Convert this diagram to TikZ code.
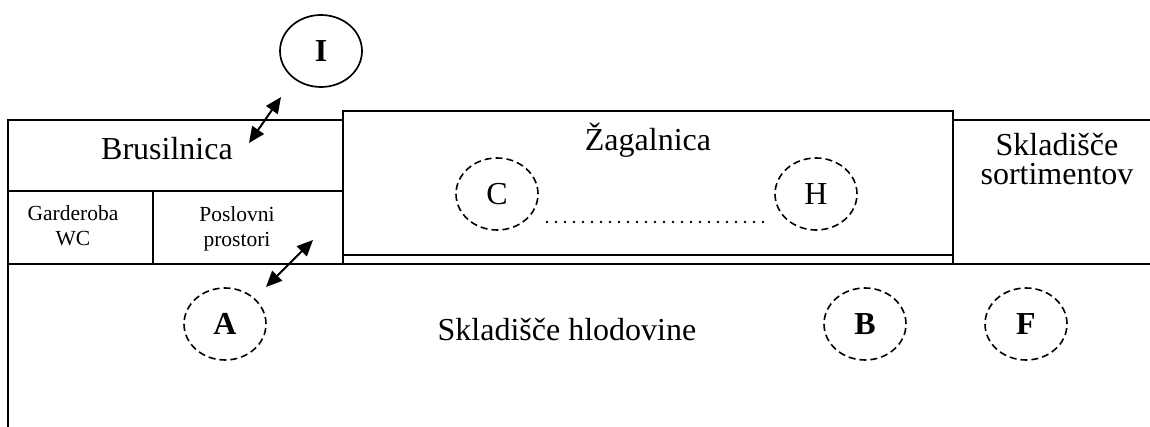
\documentclass[tikz,border=0pt]{standalone}
\usepackage{fontspec}
\setmainfont{Liberation Serif}
\usetikzlibrary{arrows.meta,shapes.geometric}
\begin{document}
\begin{tikzpicture}[x=1pt,y=-1pt,
  wall/.style={line width=2.3pt},
  thinwall/.style={line width=1.1pt},
  lbl/.style={inner sep=0pt, font=\fontsize{32}{28}\selectfont},
  smalllbl/.style={inner sep=0pt, font=\fontsize{21.5}{25}\selectfont},
  spot/.style={ellipse, draw, dash pattern=on 7pt off 4pt, line width=1.6pt,
    minimum width=82pt, minimum height=72pt, inner sep=0pt,
    font=\fontsize{32}{34}\selectfont},
  solidspot/.style={ellipse, draw, line width=1.7pt,
    minimum width=82pt, minimum height=72pt, inner sep=0pt,
    font=\fontsize{32}{34}\selectfont\bfseries},
  dots/.style={line width=2.6pt, line cap=round, dash pattern=on 0pt off 9pt},
  dbl/.style={line width=2pt,
    {Triangle[length=16pt,width=14pt]}-{Triangle[length=16pt,width=14pt]}}
]
\useasboundingbox (0,0) rectangle (1150,427);
% walls
\draw[wall] (8,427) -- (8,120) -- (343,120);
\draw[wall] (8,191) -- (343,191);
\draw[wall] (153,191) -- (153,264);
\draw[wall] (8,264) -- (1150,264);
\draw[wall] (343,264) -- (343,111) -- (953,111) -- (953,264);
\draw[wall] (953,120) -- (1150,120);
\draw[thinwall] (343,255) -- (953,255);
% labels
\node[lbl, anchor=base] (brus) at (167,160) {Brusilnica};
\node[lbl, anchor=base] (zag) at (648,151) {Žagalnica};
\node[lbl, anchor=base] (hlod) at (567,340) {Skladišče hlodovine};
\node[smalllbl, anchor=base] (gard) at (73,246)
  {\begin{tabular}[b]{@{}c@{}}Garderoba\\WC\end{tabular}};
\node[smalllbl, anchor=base] (posl) at (237,247)
  {\begin{tabular}[b]{@{}c@{}}Poslovni\\prostori\end{tabular}};
\node[lbl, anchor=base] (sort) at (1057,185)
  {\begin{tabular}[b]{@{}c@{}}Skladišče\\sortimentov\end{tabular}};
% spots
\node[solidspot] (I) at (321,51) {I};
\node[spot] (C) at (497,194) {C};
\node[spot] (H) at (816,194) {H};
\node[spot, font=\fontsize{32}{34}\selectfont\bfseries] (A) at (225,324) {A};
\node[spot, font=\fontsize{32}{34}\selectfont\bfseries] (B) at (865,324) {B};
\node[spot, font=\fontsize{32}{34}\selectfont\bfseries] (F) at (1026,324) {F};
% connectors
\coordinate (c1) at (547,222);
\coordinate (c2) at (763,222);
\draw[dots] (c1) -- (c2);
\coordinate (i1) at (249,143);
\coordinate (i2) at (281,97);
\draw[dbl] (i1) -- (i2);
\coordinate (a1) at (266,287);
\coordinate (a2) at (313,240);
\draw[dbl] (a1) -- (a2);
\end{tikzpicture}
\end{document}
